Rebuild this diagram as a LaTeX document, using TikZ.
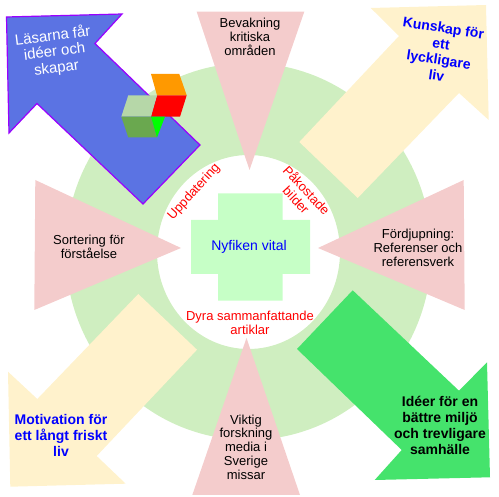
\documentclass[tikz,border=0pt]{standalone}
\usepackage{fontspec}
\setmainfont{Liberation Sans}
\definecolor{ringgreen}{RGB}{207, 238, 192}
\definecolor{crossgreen}{RGB}{198, 255, 198}
\definecolor{wedgepink}{RGB}{244, 204, 204}
\definecolor{arrowblue}{RGB}{91, 115, 227}
\definecolor{arrowpurple}{RGB}{153, 0, 255}
\definecolor{arrowcream}{RGB}{255, 242, 204}
\definecolor{arrowgreen}{RGB}{69, 227, 108}
\definecolor{cubelight}{RGB}{182, 215, 168}
\definecolor{cubedark}{RGB}{106, 168, 79}
\definecolor{cubeorange}{RGB}{255, 153, 0}
\usetikzlibrary{positioning}
\tikzset{
    wedgelabel/.style={align=center, inner sep=0pt, font=\fontsize{13}{13.8}\selectfont},
    redlabel/.style={align=center, inner sep=0pt, text=red, font=\fontsize{13}{14}\selectfont},
    arrowlabel/.style={align=center, inner sep=0pt, font=\fontsize{14}{16}\selectfont\bfseries}
}
\begin{document}
\begin{tikzpicture}[x=1pt, y=-1pt]
    \useasboundingbox (0,0) rectangle (499,497);

    \fill [ringgreen, even odd rule] (248.5,251.5) ellipse [x radius=183, y radius=188.5]
        (248.5,252) ellipse [x radius=91.5, y radius=97];
    \fill [crossgreen] (218,193.3) -- (282.7,193.3) -- (282.7,220) -- (310,220) -- (310,274) -- (282.7,274)
        -- (282.7,300.7) -- (218,300.7) -- (218,274) -- (191,274) -- (191,220) -- (218,220) -- cycle;

    \fill [wedgepink] (196.7,11.7) -- (304.3,11.7) -- (249.5,170) -- cycle;
    \fill [wedgepink] (35.3,180) -- (34.3,310) -- (181,248) -- cycle;
    \fill [wedgepink] (463.7,180) -- (464.7,310) -- (318,248) -- cycle;
    \fill [wedgepink] (192.3,495) -- (300,495) -- (246.5,338) -- cycle;

    \filldraw [fill=arrowblue, draw=arrowpurple, line width=1.2pt] (6.5,17) -- (122,14) -- (95,43.5) -- (200,145)
        -- (143,204) -- (37,103.5) -- (9,133) -- cycle;
    \fill [arrowcream] (370.7,8) -- (486,5) -- (488.7,120) -- (459,93) -- (357.7,198) -- (299.3,142) -- (399,36) -- cycle;
    \fill [arrowcream] (8,371.7) -- (37.3,399) -- (138.3,294) -- (197,349.7) -- (96.7,456) -- (125.7,483.7) -- (10.3,486.7) -- cycle;
    \fill [arrowgreen] (352.7,290.3) -- (459,390.7) -- (487,362.3) -- (490,477.3) -- (374.7,480) -- (401.7,450) -- (297,349) -- cycle;

    \fill [cubeorange] (151,74) -- (179.3,74) -- (186.7,95.3) -- (157,95.3) -- cycle;
    \fill [red] (157,95.3) -- (186.7,95.3) -- (180,116.7) -- (151,116.7) -- cycle;
    \fill [cubelight] (128.3,95.3) -- (157,95.3) -- (151,116.7) -- (121.3,116.7) -- cycle;
    \fill [cubedark] (121.3,116.7) -- (151,116.7) -- (157,137.5) -- (128.3,137.5) -- cycle;
    \fill [green] (151,116.7) -- (165,116.7) -- (157,137.5) -- cycle;

    \node [font=\fontsize{14}{16}\selectfont, text=blue, inner sep=0pt] (core) at (249,247) {Nyfiken vital};
    \node [wedgelabel] (bevakning) at (250,37) {Bevakning\\kritiska\\områden};
    \node [wedgelabel] (sortering) at (89,247) {Sortering för\\förståelse};
    \node [wedgelabel] (fordjupning) at (418,248) {Fördjupning:\\Referenser och\\referensverk};
    \node [wedgelabel] (viktig) at (246,447) {Viktig\\forskning\\media i\\Sverige\\missar};
    \node [redlabel, rotate=48] (uppdatering) at (194,192) {Uppdatering};
    \node [redlabel, rotate=-47] (pakostade) at (301.7,195) {Påkostade\\bilder};
    \node [redlabel] (dyra) at (250,323) {Dyra sammanfattande\\artiklar};
    \node [align=center, inner sep=0pt, text=white, rotate=7, font=\fontsize{15}{16}\selectfont] (lasarna) at (54.6,52) {Läsarna får\\idéer och\\skapar};
    \node [arrowlabel, text=blue, rotate=-8.5] (kunskap) at (440,51.5) {Kunskap för\\ett\\lyckligare\\liv};
    \node [arrowlabel, text=blue] (motivation) at (61,435) {Motivation för\\ett långt friskt\\liv};
    \node [arrowlabel] (ideer) at (440,425) {Idéer för en\\bättre miljö\\och trevligare\\samhälle};
\end{tikzpicture}
\end{document}
